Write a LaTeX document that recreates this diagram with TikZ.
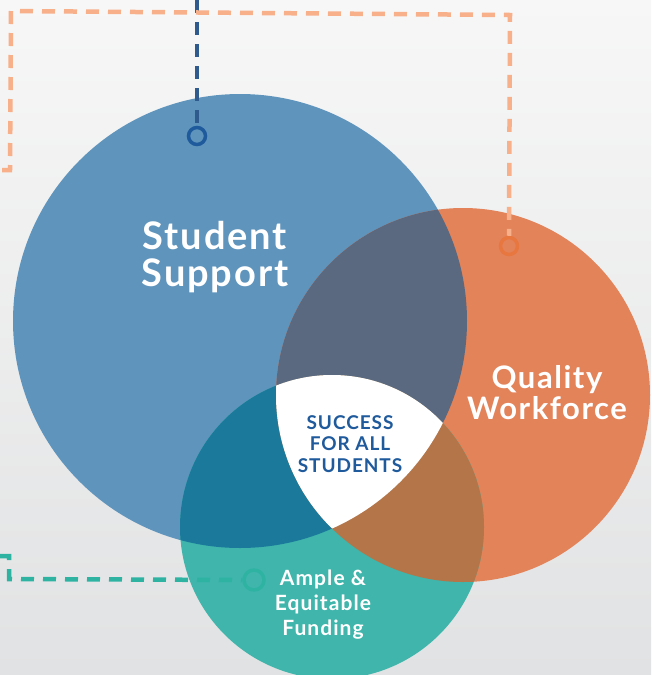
\documentclass[tikz,border=0pt]{standalone}
\usepackage{fontspec}
\setmainfont{Lato}
\newfontfamily\labelfont[LetterSpace=5]{Lato}
\usetikzlibrary{positioning}

\definecolor{bgtop}{HTML}{F7F7F7}
\definecolor{bgbottom}{HTML}{E1E2E3}
\definecolor{ssblue}{HTML}{5F94BC}
\definecolor{qworange}{HTML}{E3835A}
\definecolor{afteal}{HTML}{40B5AB}
\definecolor{ssqw}{HTML}{5A6880}
\definecolor{ssaf}{HTML}{1B7A9C}
\definecolor{qwaf}{HTML}{B47548}
\definecolor{darkblue}{HTML}{1F5A9C}
\definecolor{lineblue}{HTML}{2F5A8E}
\definecolor{lineorange}{HTML}{F7B089}
\definecolor{markorange}{HTML}{E8763F}
\definecolor{lineteal}{HTML}{2EB3A3}

\begin{document}
\begin{tikzpicture}[x=1pt, y=-1pt,
    dashline/.style={line width=4.5pt, dash pattern=on 13pt off 9pt},
    marker/.style={circle, draw, line width=3.5pt, minimum size=17pt, inner sep=0pt},
    bigtext/.style={text=white, align=center}]
    % background
    \shade[top color=bgtop, bottom color=bgbottom] (0,0) rectangle (651,675);
    \useasboundingbox (0,0) rectangle (651,675);
    % circles
    \coordinate (ss) at (240,321);
    \coordinate (qw) at (463,395);
    \coordinate (af) at (332,527);
    \def\rss{227}
    \def\rqw{187}
    \def\raf{152}
    \fill[ssblue] (ss) circle[radius=\rss];
    \fill[qworange] (qw) circle[radius=\rqw];
    \fill[afteal] (af) circle[radius=\raf];
    % overlaps
    \begin{scope}
        \clip (ss) circle[radius=\rss];
        \fill[ssqw] (qw) circle[radius=\rqw];
        \fill[ssaf] (af) circle[radius=\raf];
    \end{scope}
    \begin{scope}
        \clip (qw) circle[radius=\rqw];
        \fill[qwaf] (af) circle[radius=\raf];
        \clip (ss) circle[radius=\rss];
        \fill[white] (af) circle[radius=\raf];
    \end{scope}
    % connectors
    \node[marker, draw=darkblue] (ssmark) at (197,136) {};
    \node[marker, draw=markorange] (qwmark) at (509,246) {};
    \node[marker, draw=lineteal, minimum size=20pt] (afmark) at (254,580) {};
    \coordinate (ssfree) at (197,0);
    \coordinate (qwfree) at (2,170);
    \coordinate (affree) at (0,556);
    \draw[dashline, draw=lineblue] (ssfree) -- (ssmark.north);
    \draw[dashline, draw=lineorange] (qwfree) -- (10,170) -- (11,11) -- (510,15) -- (qwmark.north);
    \draw[dashline, draw=lineteal] (affree) -- (9,556) -- (9,579) -- (afmark.west);
    % labels
    \node[bigtext, font=\labelfont\bfseries\fontsize{38}{37}\selectfont] (sstext) at (215,257) {Student\\Support};
    \node[bigtext, font=\labelfont\bfseries\fontsize{31}{31}\selectfont] (qwtext) at (547,393) {Quality\\Workforce};
    \node[bigtext, font=\labelfont\bfseries\fontsize{21}{25}\selectfont] (aftext) at (323,605) {Ample \&\\Equitable\\Funding};
    \node[text=darkblue, font=\labelfont\bfseries\fontsize{19}{21.5}\selectfont, align=center] (center) at (350,444) {SUCCESS\\FOR ALL\\STUDENTS};
\end{tikzpicture}
\end{document}
